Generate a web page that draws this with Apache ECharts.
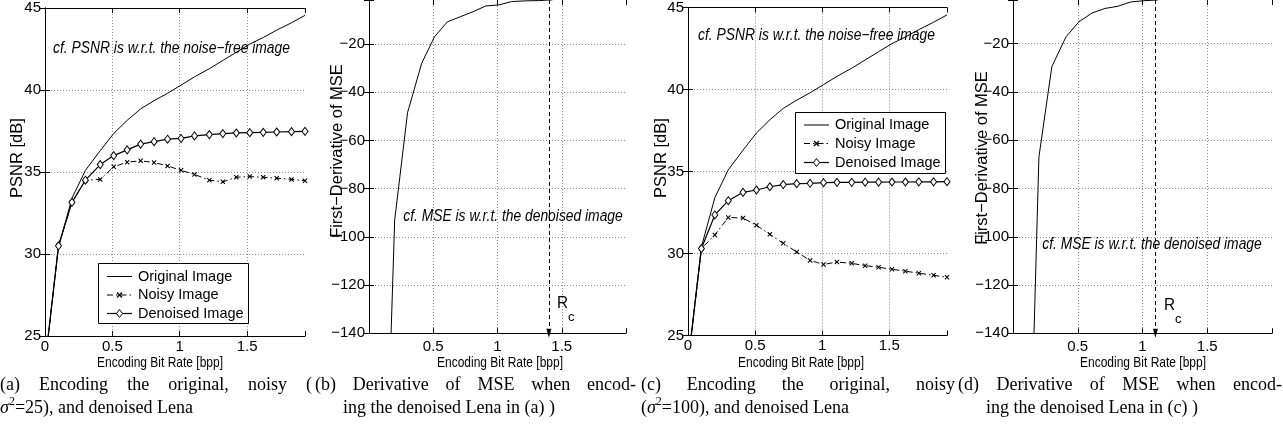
<!DOCTYPE html>
<html><head><meta charset="utf-8">
<script src="https://cdn.jsdelivr.net/npm/echarts@6/dist/echarts.min.js"></script>
<style>html,body{margin:0;padding:0;background:#fff}#c{width:1283px;height:440px}</style>
</head><body><div id="c"></div>
<script>
// ---------------- data ----------------
const rates = [0.01,0.1,0.2,0.3,0.41,0.51,0.61,0.71,0.81,0.91,1.01,1.11,1.22,1.32,1.42,1.52,1.62,1.72,1.83,1.93];
const originalPSNR = [24.0,30.4,33.4,35.1,36.3,37.35,38.15,38.85,39.35,39.8,40.3,40.8,41.3,41.8,42.3,42.8,43.2,43.65,44.1,44.55];
const noisyA    = [24.0,30.5,33.15,34.5,34.55,35.32,35.6,35.68,35.58,35.37,35.1,34.85,34.5,34.4,34.68,34.72,34.68,34.62,34.55,34.47];
const denoisedA = [24.0,30.5,33.15,34.5,35.45,36.0,36.35,36.7,36.85,37.0,37.05,37.2,37.28,37.34,37.38,37.4,37.42,37.44,37.46,37.48];
const noisyC    = [24.0,30.3,31.13,32.2,32.16,31.72,31.17,30.62,30.09,29.58,29.33,29.48,29.4,29.26,29.16,29.04,28.92,28.8,28.67,28.55];
const denoisedC = [24.0,30.3,32.35,33.22,33.73,33.87,34.07,34.2,34.26,34.28,34.32,34.34,34.34,34.35,34.35,34.36,34.36,34.37,34.37,34.38];
const derivRates = [0.1,0.2,0.3,0.41,0.51,0.61,0.71,0.81,0.91,1.01,1.11,1.22,1.32,1.42,1.52,1.62,1.72,1.83,1.93];
const derivB = [-260,-93,-48.5,-28,-17,-10.8,-8.7,-6.6,-4.2,-3.8,-2.4,-2.1,-2.0,-1.7,-0.5,-0.45,-0.4,-0.35,-0.3];
const derivD = [-260,-67,-29.5,-17.1,-10.9,-7.3,-5.4,-4.5,-2.7,-2.2,-1.9,-0.8,-0.6,-0.5,-0.45,-0.4,-0.35,-0.3,-0.25];
const rcValues = [1.4, 1.1];
const seriesNames = ['Original Image','Noisy Image','Denoised Image'];
const psnrRange = [25, 45];
const derivRangeB = [-140, -1.75];   // visible part of the [-140, 0] axis (top is cropped)
const derivRangeD = [-140, -1.9];
const psnrRateMax = 1.93;
const derivRateMax = 2;
const xAxisTitle = 'Encoding Bit Rate [bpp]';
const psnrTitle = 'PSNR [dB]';
const derivTitle = 'First\u2212Derivative of MSE';
const noteA = 'cf. PSNR is w.r.t. the noise\u2212free image';
const noteB = 'cf. MSE is w.r.t. the denoised image';

// ---------------- styling ----------------
const FONT = '"Liberation Sans", Arial, Helvetica, sans-serif';
const SERIF = '"Liberation Serif", "Times New Roman", Times, serif';
const grids = [
  {left:45,   top:8,   width:260, height:328},
  {left:369,  top:0,   width:257, height:333.2},
  {left:688,  top:7.5, width:259, height:328},
  {left:1013, top:0,   width:259, height:333.3}
];
const gridLine = {show:true, showMinLine:false, showMaxLine:false, lineStyle:{color:'#8a8a8a', type:[1,2], width:1}};
const tickIn = {show:true, inside:true, length:5, lineStyle:{color:'#000', width:1}};
const axLine = {show:true, lineStyle:{color:'#000', width:1}};
const fmtNum = v => String(+v.toFixed(2)).replace('-', '\u2212');

function xAxes(gi, max, showZero, margin, topLine){
  const isTick = v => Math.abs(v*2 - Math.round(v*2)) < 1e-6;
  return [{
    type:'value', gridIndex:gi, min:0, max:max, interval:0.5, position:'bottom',
    axisLine:axLine, axisTick:tickIn, splitLine:gridLine,
    axisLabel:{show:true, margin:margin, fontSize:15, color:'#000', fontFamily:FONT,
      formatter: v => (isTick(v) && (showZero || v > 0) && v < 1.99) ? fmtNum(v) : ''}
  },{
    type:'value', gridIndex:gi, min:0, max:max, interval:0.5, position:'top',
    axisLine:{show:topLine, lineStyle:{color:'#000', width:1}}, axisTick:tickIn, splitLine:{show:false}, axisLabel:{show:false}
  }];
}
function yAxes(gi, range, interval){
  const isTick = v => Math.abs(v/interval - Math.round(v/interval)) < 1e-6;
  return [{
    type:'value', gridIndex:gi, min:range[0], max:range[1], interval:interval, position:'left',
    axisLine:axLine, axisTick:tickIn, splitLine:gridLine,
    axisLabel:{show:true, margin:4, fontSize:15, color:'#000', fontFamily:FONT,
      formatter: v => isTick(v) ? fmtNum(v) : ''}
  },{
    type:'value', gridIndex:gi, min:range[0], max:range[1], interval:interval, position:'right',
    axisLine:axLine, axisTick:tickIn, splitLine:{show:false}, axisLabel:{show:false}
  }];
}

const xA = [xAxes(0, psnrRateMax, true, 3, true), xAxes(1, derivRateMax, false, 6, false), xAxes(2, psnrRateMax, true, 3, true), xAxes(3, derivRateMax, false, 6, false)];
const yA = [yAxes(0, psnrRange, 5), yAxes(1, derivRangeB, 20), yAxes(2, psnrRange, 5), yAxes(3, derivRangeD, 20)];
const xAxis = xA.map(a=>a[0]).concat(xA.map(a=>a[1]));
const yAxis = yA.map(a=>a[0]).concat(yA.map(a=>a[1]));

const xSymbol = 'path://M0,3L3,0L10,7L17,0L20,3L13,10L20,17L17,20L10,13L3,20L0,17L7,10Z';
const dashDot = [6,3,1.5,3];
const pair = (xs, ys) => xs.map((x,i)=>[x, ys[i]]);

function psnrSeries(ai, noisy, denoised){
  return [
    {name:seriesNames[0], type:'line', xAxisIndex:ai, yAxisIndex:ai, data:pair(rates, originalPSNR),
      symbol:'none', lineStyle:{color:'#000', width:1}, itemStyle:{color:'#000'}, z:3},
    {name:seriesNames[1], type:'line', xAxisIndex:ai, yAxisIndex:ai, data:pair(rates, noisy),
      symbol:xSymbol, symbolSize:5, showAllSymbol:true,
      lineStyle:{color:'#000', width:1, type:dashDot}, itemStyle:{color:'#000'}, z:3},
    {name:seriesNames[2], type:'line', xAxisIndex:ai, yAxisIndex:ai, data:pair(rates, denoised),
      symbol:'diamond', symbolSize:[6,8], showAllSymbol:true,
      lineStyle:{color:'#000', width:1.2}, itemStyle:{color:'#fff', borderColor:'#000', borderWidth:1}, z:4}
  ];
}
function derivSeries(ai, vals, rc, range){
  return {name:'deriv'+ai, type:'line', xAxisIndex:ai, yAxisIndex:ai, data:pair(derivRates, vals),
    symbol:'none', lineStyle:{color:'#000', width:1}, itemStyle:{color:'#000'}, z:3,
    markLine:{silent:true, symbol:['none','triangle'], symbolSize:[5,9],
      lineStyle:{color:'#000', width:1, type:[4,3]}, label:{show:false},
      data:[[{coord:[rc, range[1]]},{coord:[rc, range[0]]}]]}};
}

const series = [].concat(
  psnrSeries(0, noisyA, denoisedA),
  [derivSeries(1, derivB, rcValues[0], derivRangeB)],
  psnrSeries(2, noisyC, denoisedC),
  [derivSeries(3, derivD, rcValues[1], derivRangeD)]
);

// ---------------- text graphics ----------------
const g = [];
function txt(text, x, y, opt){
  opt = opt || {};
  g.push({type:'text', x:x, y:y, rotation:opt.rotation||0, scaleX:opt.scaleX||1, z:100,
    style:{text:text, fill:'#000', fontSize:opt.size||15, fontFamily:opt.family||FONT,
      fontStyle:opt.style||'normal', align:opt.align||'center', verticalAlign:opt.valign||'middle'}});
}
// legend boxes (drawn as graphics to mimic MATLAB legend)
function legendBox(x, y, w, h, rowYs){
  g.push({type:'rect', z:90, shape:{x:x+0.5, y:y+0.5, width:w, height:h}, style:{fill:'#fff', stroke:'#000', lineWidth:1}});
  const sx0 = x + 9, sx1 = x + 34, cx = (sx0 + sx1) / 2;
  g.push({type:'line', z:95, shape:{x1:sx0, y1:rowYs[0]+0.5, x2:sx1, y2:rowYs[0]+0.5}, style:{stroke:'#000', lineWidth:1}});
  g.push({type:'line', z:95, shape:{x1:sx0, y1:rowYs[1]+0.5, x2:sx1, y2:rowYs[1]+0.5}, style:{stroke:'#000', lineWidth:1, lineDash:dashDot}});
  g.push({type:'line', z:96, shape:{x1:cx-2.5, y1:rowYs[1]-2, x2:cx+2.5, y2:rowYs[1]+3}, style:{stroke:'#000', lineWidth:1.2}});
  g.push({type:'line', z:96, shape:{x1:cx-2.5, y1:rowYs[1]+3, x2:cx+2.5, y2:rowYs[1]-2}, style:{stroke:'#000', lineWidth:1.2}});
  g.push({type:'line', z:95, shape:{x1:sx0, y1:rowYs[2]+0.5, x2:sx1, y2:rowYs[2]+0.5}, style:{stroke:'#000', lineWidth:1.2}});
  g.push({type:'polygon', z:96, shape:{points:[[cx,rowYs[2]-3.5],[cx+3,rowYs[2]+0.5],[cx,rowYs[2]+4.5],[cx-3,rowYs[2]+0.5]]}, style:{fill:'#fff', stroke:'#000', lineWidth:1}});
  seriesNames.forEach((n,i) => txt(n, x + 40, rowYs[i] + 0.5, {size:14.5, align:'left'}));
}
legendBox(98, 263, 150, 60, [276, 294.5, 313]);
legendBox(795, 112, 150, 61, [124.5, 143, 162]);

// axis titles
txt(psnrTitle, 17.5, 158, {size:16.5, rotation:Math.PI/2});
txt(psnrTitle, 661, 158, {size:16.5, rotation:Math.PI/2});
txt(derivTitle, 337.5, 151, {size:16.5, rotation:Math.PI/2});
txt(derivTitle, 982.5, 158, {size:16.5, rotation:Math.PI/2});
[160, 500, 801, 1143].forEach(cx => txt(xAxisTitle, cx, 363, {size:15, scaleX:0.8}));
// notes
txt(noteA, 171.5, 49, {size:16, style:'italic', scaleX:0.865});
txt(noteA, 816.5, 36, {size:16, style:'italic', scaleX:0.865});
txt(noteB, 513, 217, {size:16, style:'italic', scaleX:0.865});
txt(noteB, 1152, 245, {size:16, style:'italic', scaleX:0.865});
// R_c labels
txt('R', 557, 303, {size:17, align:'left', scaleX:0.9});
txt('c', 568, 317, {size:13, align:'left'});
txt('R', 1164, 305, {size:17, align:'left', scaleX:0.9});
txt('c', 1175, 319, {size:13, align:'left'});

// captions
const CAP = 18;
const capFont = CAP + 'px ' + SERIF;
const ctx = document.createElement('canvas').getContext('2d');
function measure(t, font){ ctx.font = font; return ctx.measureText(t).width; }
function justified(words, x0, x1, y){
  const ws = words.map(w => measure(w, capFont));
  const total = ws.reduce((a,b)=>a+b, 0);
  const gap = (x1 - x0 - total) / (words.length - 1);
  let x = x0;
  words.forEach((w,i) => { txt(w, x, y, {size:CAP, family:SERIF, align:'left'}); x += ws[i] + gap; });
}
function runs(parts, x0, y){
  let x = x0;
  parts.forEach(p => {
    const size = p.size || CAP;
    const font = (p.style === 'italic' ? 'italic ' : '') + size + 'px ' + SERIF;
    txt(p.t, x, y + (p.dy||0), {size:size, family:SERIF, align:'left', style:p.style||'normal'});
    x += measure(p.t, font);
  });
}
const L1 = 385, L2 = 408;
justified(['(a)','Encoding','the','original,','noisy','('], 0, 312, L1);
justified(['(b)','Derivative','of','MSE','when','encod-'], 315, 636, L1);
justified(['(c)','Encoding','the','original,','noisy'], 641, 955, L1);
justified(['(d)','Derivative','of','MSE','when','encod-'], 958, 1282, L1);
runs([{t:'\u03c3', style:'italic'},{t:'2', size:12, dy:-6},{t:'=25), and denoised Lena'}], 0, L2);
runs([{t:'ing the denoised Lena in (a) )'}], 343, L2);
runs([{t:'('},{t:'\u03c3', style:'italic'},{t:'2', size:12, dy:-6},{t:'=100), and denoised Lena'}], 641, L2);
runs([{t:'ing the denoised Lena in (c) )'}], 986, L2);

const chart = echarts.init(document.getElementById('c'), null, {renderer:'canvas'});
chart.setOption({
  animation:false,
  backgroundColor:'#fff',
  grid: grids.map(gr => Object.assign({show:false}, gr)),
  xAxis: xAxis,
  yAxis: yAxis,
  series: series,
  graphic: g
});
</script></body></html>
